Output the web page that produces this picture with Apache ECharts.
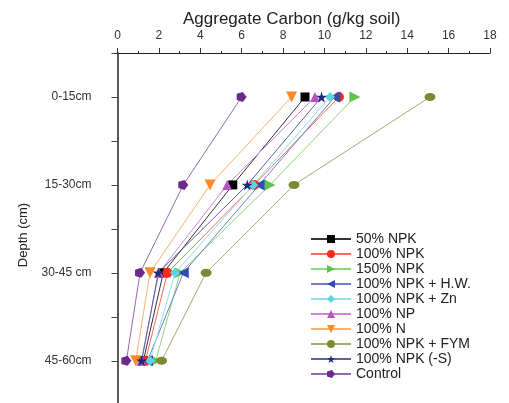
<!DOCTYPE html>
<html>
<head>
<meta charset="utf-8">
<script src="https://cdn.jsdelivr.net/npm/echarts@6/dist/echarts.min.js"></script>
<style>html,body{margin:0;padding:0;background:#fff}#c{width:509px;height:403px}</style>
</head>
<body>
<div id="c"></div>
<script>
var depthLabels = ['0-15cm', '15-30cm', '30-45 cm', '45-60cm'];
var depthPos = [1, 2, 3, 4];
var seriesNames = ['50% NPK', '100% NPK', '150% NPK', '100% NPK + H.W.', '100% NPK + Zn', '100% NP', '100% N', '100% NPK + FYM', '100% NPK (-S)', 'Control'];
var npk50 = [9.06, 5.57, 2.21, 1.25];
var npk100 = [10.7, 6.6, 2.41, 1.35];
var npk150 = [11.47, 7.37, 3.02, 1.85];
var npkHW = [10.5, 6.85, 3.18, 1.45];
var npkZn = [10.27, 6.56, 2.78, 1.57];
var np100 = [9.54, 5.3, 2.0, 1.15];
var n100 = [8.41, 4.47, 1.57, 0.88];
var npkFYM = [15.1, 8.53, 4.28, 2.13];
var npkS = [9.86, 6.27, 1.97, 1.17];
var control = [6.0, 3.18, 1.09, 0.43];
var xTicks = [0, 2, 4, 6, 8, 10, 12, 14, 16, 18];

var allValues = [npk50, npk100, npk150, npkHW, npkZn, np100, n100, npkFYM, npkS, control];
var colors = ['#000000', '#ff2a1a', '#5ec44a', '#2f4fb0', '#5fd3e0', '#b556c0', '#ff8a2a', '#7d8a32', '#1f2a7a', '#6b2a8c'];
var lineColors = ['#333333', '#ff6a5a', '#8fd47f', '#6a80c8', '#8fe0ea', '#cc88d4', '#ffb070', '#a3ab70', '#5a62a0', '#9a68b0'];
var star = 'path://M50,0 L61,35 L98,35 L68,57 L79,91 L50,70 L21,91 L32,57 L2,35 L39,35 Z';
var pent = 'path://M50,0 L100,38 L81,100 L19,100 L0,38 Z';
var symbols = ['rect', 'circle', 'triangle', 'triangle', 'diamond', 'triangle', 'triangle', 'circle', star, pent];
var rotates = [0, 0, -90, 90, 0, 0, 180, 0, 0, -90];
var sizes = [9, 10, 11, 11, 10, 10, 11, [11, 8], 11, 10];

var series = seriesNames.map(function (name, i) {
  return {
    name: name,
    type: 'line',
    data: allValues[i].map(function (v, j) { return [v, depthPos[j]]; }),
    symbol: symbols[i],
    symbolRotate: rotates[i],
    symbolSize: sizes[i],
    itemStyle: { color: colors[i] },
    lineStyle: { color: lineColors[i], width: 1 },
    emphasis: { disabled: true }
  };
});

var chart = echarts.init(document.getElementById('c'));
chart.setOption({
  animation: false,
  title: {
    text: 'Aggregate Carbon (g/kg soil)', left: 178, top: 6,
    textStyle: { fontFamily: 'Liberation Sans', fontSize: 17, fontWeight: 'normal', color: '#222' }
  },
  grid: { left: 117.5, right: 19, top: 53, bottom: 0 },
  xAxis: {
    type: 'value', position: 'top', min: 0, max: 18, interval: 2,
    axisLine: { show: true, lineStyle: { color: '#222', width: 1 } },
    axisTick: { show: true, inside: false, length: 5, lineStyle: { color: '#333' } },
    minorTick: { show: true, splitNumber: 2, length: 2, lineStyle: { color: '#333' } },
    axisLabel: { fontFamily: 'Liberation Sans', fontSize: 12, color: '#333', margin: 11 },
    splitLine: { show: false }
  },
  yAxis: {
    type: 'value', inverse: true, min: 0.5, max: 4.48, interval: 0.5,
    name: 'Depth (cm)', nameLocation: 'middle', nameGap: 88,
    nameTextStyle: { fontFamily: 'Liberation Sans', fontSize: 13, color: '#222', padding: [0, 14, 0, 0] },
    axisLine: { show: true, onZero: false, lineStyle: { color: '#222', width: 1.5 } },
    axisTick: { show: true, inside: false, length: 6, lineStyle: { color: '#444' } },
    axisLabel: {
      fontFamily: 'Liberation Sans', fontSize: 12, color: '#333', margin: 26,
      formatter: function (v) {
        var k = depthPos.indexOf(v);
        return k >= 0 ? depthLabels[k] : '';
      }
    },
    splitLine: { show: false }
  },
  legend: {
    orient: 'vertical', left: 305, top: 227,
    itemWidth: 40, itemHeight: 10, itemGap: 1,
    textStyle: { fontFamily: 'Liberation Sans', fontSize: 14, color: '#222', lineHeight: 14 },
    data: seriesNames
  },
  series: series
});
</script>
</body>
</html>
